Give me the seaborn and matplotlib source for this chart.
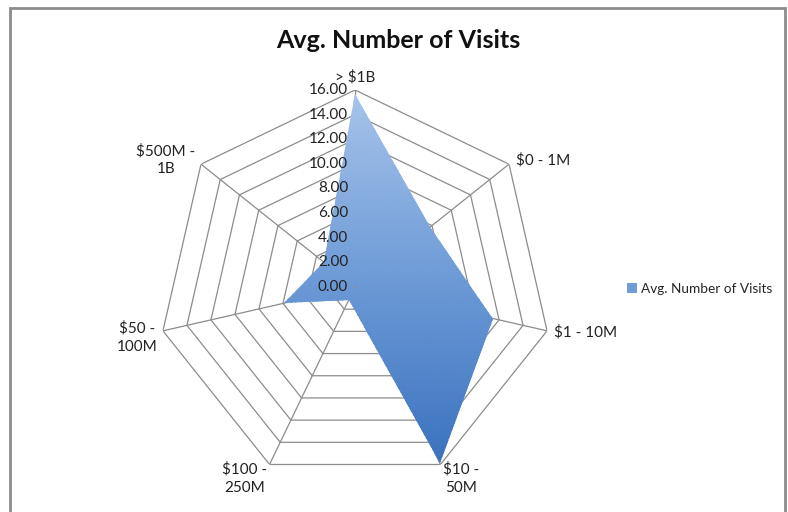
import matplotlib

matplotlib.use("Agg")
import matplotlib.pyplot as plt
import numpy as np
import seaborn as sns
from matplotlib.patches import Patch, Rectangle

# data (clockwise from the top)
categories = ["> $1B", "$0 - 1M", "$1 - 10M", "$10 -\n50M", "$100 -\n250M",
              "$50 -\n100M", "$500M -\n1B"]
avg_visits = [15.7, 7.8, 11.5, 15.9, 1.2, 5.9, 3.2]
ticks = [0, 2, 4, 6, 8, 10, 12, 14, 16]
series_name = "Avg. Number of Visits"

sns.set_theme(style="white")
plt.rcParams["font.family"] = ["Lato", "DejaVu Sans"]

GRID = "#8c8c8c"
fig = plt.figure(figsize=(7.88, 5.12), dpi=100)
ax = fig.add_axes([158 / 788, 28 / 512, 394 / 788, 394 / 512], projection="polar")
ax.set_theta_zero_location("N")
ax.set_theta_direction(-1)
ax.patch.set_alpha(0)

n = len(categories)
angles = np.linspace(0, 2 * np.pi, n, endpoint=False)
closed = np.append(angles, angles[0])

# heptagon rings and spokes
for t in ticks[1:]:
    ax.plot(closed, [t] * (n + 1), color=GRID, lw=0.9, zorder=1)
for a in angles:
    ax.plot([a, a], [0, ticks[-1]], color=GRID, lw=0.9, zorder=1)

# filled series with a vertical gradient
vals = np.append(avg_visits, avg_visits[0])
poly = ax.fill(closed, vals, facecolor="none", edgecolor="none", zorder=2)[0]
cmap = sns.blend_palette(["#3a72bf", "#6d9ad6", "#a6c3ea"], as_cmap=True)
tg, rg = np.meshgrid(np.linspace(0, 2 * np.pi, 360), np.linspace(0, ticks[-1], 120))
ys = np.array(avg_visits) * np.cos(angles)
mesh = ax.pcolormesh(tg, rg, rg * np.cos(tg), cmap=cmap, vmin=ys.min(), vmax=ys.max(),
                     shading="auto", zorder=2)
mesh.set_clip_path(poly)

ax.set_ylim(0, ticks[-1])
ax.grid(False)
ax.set_xticks([])
ax.set_yticks([])
ax.spines["polar"].set_visible(False)

# radial value labels along the top spoke
for t in ticks:
    ax.annotate(f"{t:.2f}", xy=(0, t), xytext=(-5, 0), textcoords="offset points",
                ha="right", va="center", fontsize=11, color="#222222",
                annotation_clip=False, zorder=3)

# category labels
has = ["center", "left", "left", "left", "right", "right", "right"]
vas = ["bottom", "center", "center", "top", "top", "center", "center"]
offs = [(0, 4), (5, 3), (5, -1), (2, 2), (-2, 2), (-4, -5), (-4, 3)]
for a, lab, h, v, o in zip(angles, categories, has, vas, offs):
    ax.annotate(lab, xy=(a, ticks[-1]), xytext=o, textcoords="offset points",
                ha=h, va=v, multialignment="center", fontsize=11, color="#222222",
                annotation_clip=False, linespacing=1.4)

fig.text(0.505, 1 - 40 / 512, series_name, ha="center", va="center",
         fontsize=18, fontweight="bold", color="#111111")

fig.legend(handles=[Patch(facecolor="#6f9bd6", edgecolor="none", label=series_name)],
           loc="center left", bbox_to_anchor=(615 / 788, 1 - 289 / 512), frameon=False,
           fontsize=9.8, handlelength=0.7, handleheight=0.7, handletextpad=0.3)

fig.patches.append(Rectangle((10 / 788, -0.02), 775 / 788, 1.02 - 8 / 512,
                             transform=fig.transFigure, fill=False,
                             edgecolor="#8c8c8c", lw=2))

fig.savefig("out.png", dpi=100)
